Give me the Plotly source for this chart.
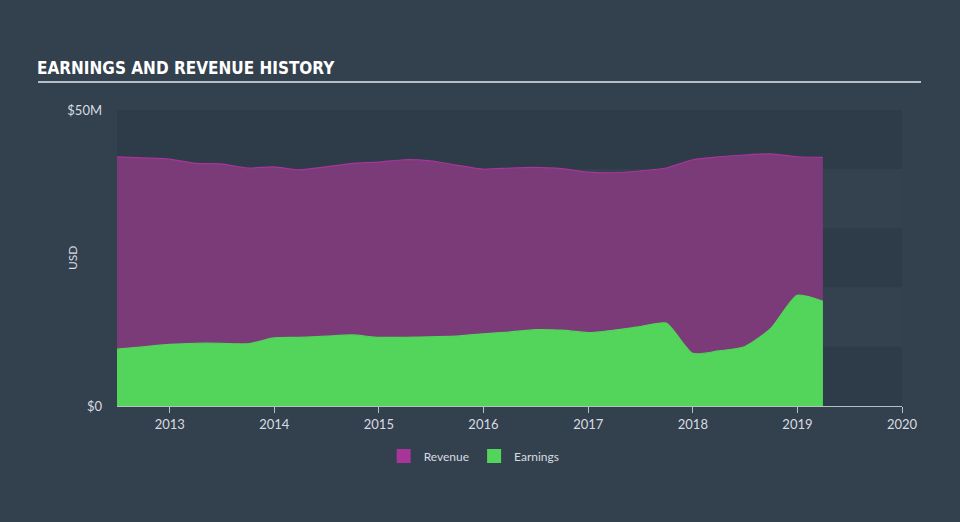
import plotly.graph_objects as go
import pandas as pd

dates = pd.date_range("2012-06-30", "2019-03-31", freq="QE").strftime("%Y-%m-%d").tolist()
revenue = [42.1, 41.9, 41.7, 41.0, 40.9, 40.2, 40.4, 39.9, 40.4, 41.0, 41.2, 41.6, 41.4, 40.7,
           40.0, 40.2, 40.3, 40.1, 39.5, 39.4, 39.7, 40.2, 41.6, 42.1, 42.4, 42.6, 42.1, 42.0]
earnings = [9.6, 10.0, 10.4, 10.6, 10.6, 10.5, 11.5, 11.6, 11.8, 12.0, 11.6, 11.6, 11.7, 11.8,
            12.2, 12.5, 12.9, 12.8, 12.4, 12.8, 13.4, 14.0, 8.9, 9.3, 10.0, 13.1, 18.7, 17.7]
revenue = [v * 1e6 for v in revenue]
earnings = [v * 1e6 for v in earnings]
year_ticks = ["2013-01-01", "2014-01-01", "2015-01-01", "2016-01-01", "2017-01-01",
              "2018-01-01", "2019-01-01", "2020-01-01"]
year_labels = ["2013", "2014", "2015", "2016", "2017", "2018", "2019", "2020"]

BG = "#33404e"
TXT = "#d8dce0"
FONT = "Lato"
fig = go.Figure()
fig.add_trace(go.Scatter(x=dates, y=revenue, name="Revenue", mode="lines", showlegend=False,
                         line=dict(color="#a8359a", width=1.2, shape="spline", smoothing=0.6),
                         fill="tozeroy", fillcolor="#7b3a78"))
fig.add_trace(go.Scatter(x=dates, y=earnings, name="Earnings", mode="lines", showlegend=False,
                         line=dict(color="#52d55a", width=1.2, shape="spline", smoothing=0.6),
                         fill="tozeroy", fillcolor="#52d55a"))
# legend entries with square swatches
fig.add_trace(go.Scatter(x=[None], y=[None], name="Revenue", mode="markers",
                         marker=dict(symbol="square", size=14, color="#a8359a")))
fig.add_trace(go.Scatter(x=[None], y=[None], name="Earnings", mode="markers",
                         marker=dict(symbol="square", size=14, color="#52d55a")))

shapes = []
band_cols = ["#2e3b49", "#34424f"]
for i in range(5):
    y0 = 50e6 - (i + 1) * 10e6
    shapes.append(dict(type="rect", xref="paper", yref="y", x0=0, x1=1, y0=y0, y1=y0 + 10e6,
                       fillcolor=band_cols[i % 2], line=dict(width=0), layer="below"))
shapes.append(dict(type="line", xref="paper", yref="paper", x0=-0.1006, x1=1.0242,
                   y0=1.0946, y1=1.0946, line=dict(color="#b8bec6", width=2)))
fig.update_layout(
    width=960, height=522,
    margin=dict(l=117, r=58, t=110, b=116),
    paper_bgcolor=BG, plot_bgcolor=BG,
    shapes=shapes,
    showlegend=True,
    legend=dict(orientation="h", x=0.455, xanchor="center", y=-0.12, yanchor="top",
                font=dict(color=TXT, size=12, family=FONT), itemwidth=30,
                traceorder="normal"),
    title=dict(text="<b>EARNINGS AND REVENUE HISTORY</b>", x=37 / 960, xanchor="left",
               y=1 - 68 / 522, yanchor="middle",
               font=dict(color="#ffffff", size=17,
                         family="DejaVu Sans Condensed, Liberation Sans Narrow, Roboto Condensed, sans-serif")),
    xaxis=dict(range=["2012-07-01", "2020-01-01"], tickvals=year_ticks, ticktext=year_labels,
               showgrid=False, zeroline=False, showline=True, linecolor="#b8bec6", linewidth=1,
               ticks="outside", ticklen=6, tickcolor="#b8bec6",
               tickfont=dict(color=TXT, size=13, family=FONT)),
    yaxis=dict(range=[0, 50e6], tickvals=[0, 50e6], ticktext=["$0", "$50M"],
               showgrid=False, zeroline=False, showline=False,
               tickfont=dict(color=TXT, size=13, family=FONT), ticklabelstandoff=14),
    annotations=[dict(text="USD", xref="paper", yref="paper", x=(72 - 117) / 785, y=0.5,
                      xanchor="center", yanchor="middle", textangle=-90, showarrow=False,
                      font=dict(color=TXT, size=12, family=FONT))],
)
fig.write_html("out.html")
